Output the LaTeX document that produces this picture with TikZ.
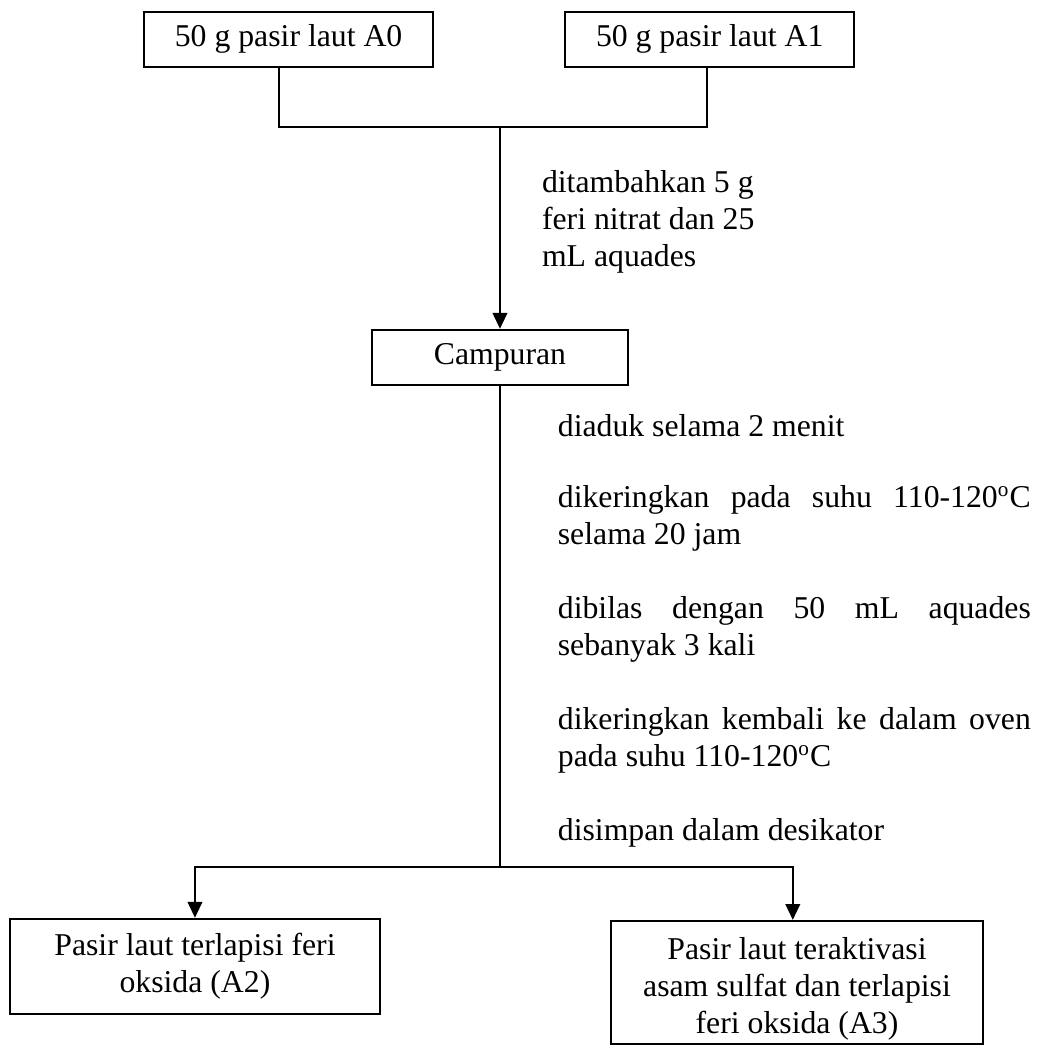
\documentclass[tikz,border=0pt]{standalone}
\usepackage{fontspec}
\setmainfont{Liberation Serif}
\usetikzlibrary{arrows.meta, positioning}

\begin{document}
\begin{tikzpicture}[x=1pt, y=-1pt, line width=0.8pt,
    font=\fontsize{12}{14}\selectfont,
    box/.style={draw, align=center, inner sep=2pt, minimum height=20.8pt},
    note/.style={anchor=west, inner sep=0pt, text width=178.8pt, align=justify},
    arr/.style={-{Triangle[length=6pt, width=5.5pt]}}]
    \useasboundingbox (0,0) rectangle (392.7,395.8);

    \node (a0) [box, minimum width=109.2pt] at (109.1,14.8) {50 g pasir laut A0};
    \node (a1) [box, minimum width=109.2pt, right=49.2pt of a0] {50 g pasir laut A1};
    \node (campur) [box, minimum width=96.8pt] at (189,135.1) {Campuran};
    \node (a2) [box, minimum width=139.9pt, minimum height=35.9pt] at (73.7,365.3) {Pasir laut terlapisi feri\\oksida (A2)};
    \node (a3) [box, inner ysep=0pt, minimum width=140.6pt, minimum height=46.5pt] at (301.3,371.4) {\rule{0pt}{13pt}Pasir laut teraktivasi\\asam sulfat dan terlapisi\\feri oksida (A3)};

    % keterangan proses
    \node (tambah) [anchor=west, inner sep=0pt, align=left] at (204.5,83.9) {ditambahkan 5 g\\feri nitrat dan 25\\mL aquades};
    \node (s1) [note] at (210.5,161) {diaduk selama 2 menit};
    \node (s2) [note] at (210.5,196) {dikeringkan pada suhu 110-120\textsuperscript{o}C\linebreak selama 20 jam};
    \node (s3) [note] at (210.5,238) {dibilas dengan 50 mL aquades\linebreak sebanyak 3 kali};
    \node (s4) [note] at (210.5,280) {dikeringkan kembali ke dalam oven\linebreak pada suhu 110-120\textsuperscript{o}C};
    \node (s5) [note] at (210.5,315) {disimpan dalam desikator};

    \coordinate (join) at (189,47.9);
    \coordinate (split) at (189,327.8);

    \draw ([xshift=-3.6pt]a0.south) |- (join) -| ([xshift=-0.9pt]a1.south);
    \draw[arr] (join) -- (campur);
    \draw (campur) -- (split);
    \draw[arr] (split) -| (a2);
    \draw[arr] (split) -| ([xshift=-1.6pt]a3.north);
\end{tikzpicture}
\end{document}
